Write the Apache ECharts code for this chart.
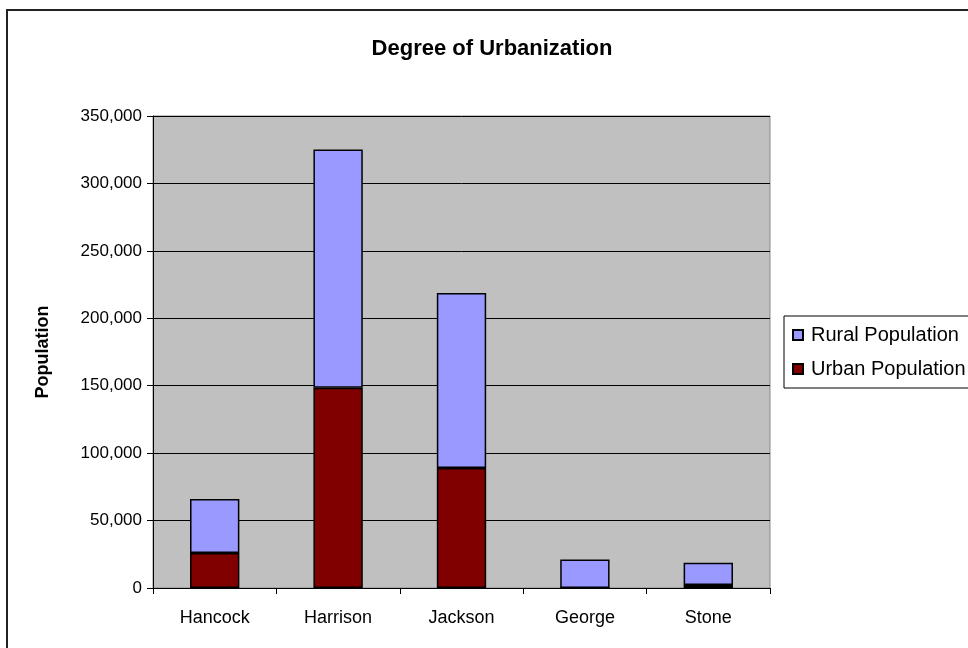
<!DOCTYPE html>
<html>
<head>
<meta charset="utf-8">
<script src="https://cdn.jsdelivr.net/npm/echarts@6/dist/echarts.min.js"></script>
<style>
html, body { margin: 0; padding: 0; background: #fff; }
#chart { width: 968px; height: 648px; }
</style>
</head>
<body>
<div id="chart"></div>
<script>
var categories = ["Hancock", "Harrison", "Jackson", "George", "Stone"];
var urbanPopulation = [26000, 148400, 89000, 0, 2200];
var ruralPopulation = [40000, 176800, 129800, 21200, 16600];
var yTicks = [0, 50000, 100000, 150000, 200000, 250000, 300000, 350000];

var font = "Liberation Sans, Arial, sans-serif";

var myChart = echarts.init(document.getElementById("chart"));

var option = {
    backgroundColor: "#fff",
    animation: false,
    textStyle: { fontFamily: font },
    title: {
        text: "Degree of Urbanization",
        left: 487,
        textAlign: "center",
        top: 33,
        textStyle: { fontSize: 22, fontWeight: "bold", color: "#000", fontFamily: font }
    },
    graphic: [
        {
            type: "rect",
            shape: { x: 7, y: 10, width: 1000, height: 700 },
            style: { fill: "none", stroke: "#222", lineWidth: 2 },
            z: -1
        }
    ],
    legend: {
        orient: "vertical",
        left: 784,
        top: 316,
        padding: [9, 30, 9, 8],
        itemGap: 14,
        itemWidth: 10,
        itemHeight: 10,
        borderColor: "#000",
        borderWidth: 1,
        icon: "rect",
        textStyle: { fontSize: 20, color: "#000", fontFamily: font, padding: [0, 0, 0, 3] },
        data: ["Rural Population", "Urban Population"]
    },
    grid: {
        left: 153,
        right: 198,
        top: 116,
        bottom: 60,
        show: true,
        backgroundColor: "#c0c0c0",
        borderColor: "#888",
        borderWidth: 1
    },
    xAxis: {
        type: "category",
        data: categories,
        axisLine: { lineStyle: { color: "#000", width: 1 } },
        axisTick: { show: true, inside: false, length: 6, lineStyle: { color: "#000" } },
        axisLabel: { fontSize: 18, color: "#000", margin: 21, fontFamily: font }
    },
    yAxis: {
        type: "value",
        min: 0,
        max: 350000,
        interval: 50000,
        name: "Population",
        nameLocation: "middle",
        nameGap: 101,
        nameTextStyle: { fontSize: 18, fontWeight: "bold", color: "#000", fontFamily: font },
        axisLine: { show: true, lineStyle: { color: "#000", width: 1 } },
        axisTick: { show: true, length: 6, lineStyle: { color: "#000" } },
        splitLine: { show: true, lineStyle: { color: "#000", width: 1 } },
        axisLabel: {
            fontSize: 17,
            color: "#000",
            margin: 11,
            fontFamily: font,
            formatter: function (v) {
                return yTicks.indexOf(v) >= 0 ? v.toLocaleString("en-US") : "";
            }
        }
    },
    series: [
        {
            name: "Urban Population",
            type: "bar",
            stack: "pop",
            barWidth: "40%",
            data: urbanPopulation,
            itemStyle: { color: "#800000", borderColor: "#000", borderWidth: 1.5 }
        },
        {
            name: "Rural Population",
            type: "bar",
            stack: "pop",
            barWidth: "40%",
            data: ruralPopulation,
            itemStyle: { color: "#9999ff", borderColor: "#000", borderWidth: 1.5 }
        }
    ]
};

myChart.setOption(option);
window.addEventListener("resize", myChart.resize);
</script>
</body>
</html>
